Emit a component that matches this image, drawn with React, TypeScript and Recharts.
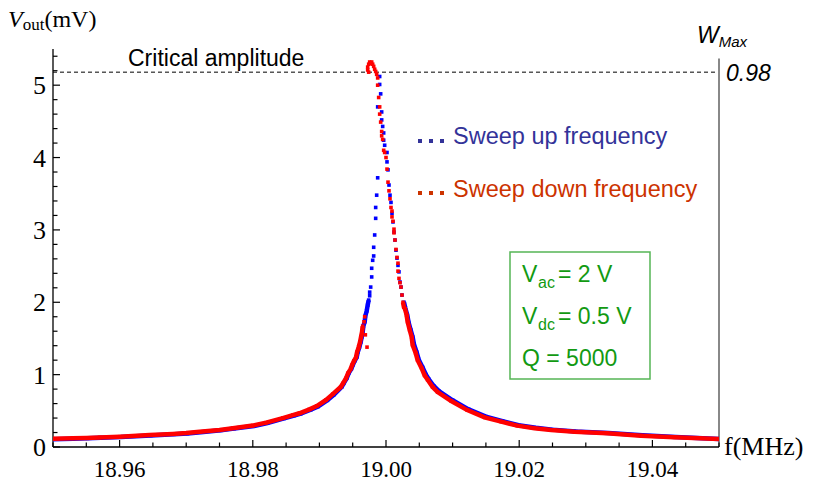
import React from 'react';
import { ScatterChart, Scatter, XAxis, YAxis, ReferenceLine } from 'recharts';

// ---- data (f in MHz, V_out in mV) ----
const blueLeftBranch: [number, number][] = [
  [18.95, 0.108], [18.953, 0.115], [18.9552, 0.12], [18.9572, 0.128], [18.9602, 0.137],
  [18.9647, 0.16], [18.9682, 0.176], [18.9702, 0.186], [18.9722, 0.205], [18.9752, 0.23],
  [18.9772, 0.255], [18.9802, 0.29], [18.9822, 0.33], [18.9847, 0.395], [18.9862, 0.435],
  [18.9872, 0.46], [18.9887, 0.515], [18.9898, 0.56], [18.9912, 0.645], [18.9922, 0.725],
  [18.99335, 0.83], [18.99365, 0.88], [18.9941, 0.95], [18.9944, 1.02], [18.9948, 1.08],
  [18.995, 1.13], [18.9953, 1.19], [18.9956, 1.24], [18.99575, 1.31], [18.996, 1.38],
  [18.9962, 1.45], [18.99635, 1.52], [18.9965, 1.59], [18.9966, 1.67], [18.9968, 1.73],
  [18.9969, 1.81], [18.9971, 1.88], [18.99725, 1.96], [18.9974, 2.03],
];
const bluePeakDots: [number, number][] = [
  [18.99755, 2.14], [18.99755, 2.09], [18.9977, 2.21], [18.99785, 2.35], [18.99785, 2.47], [18.998, 2.58],
  [18.99815, 2.64], [18.99815, 2.76], [18.9983, 2.93], [18.99845, 3.16], [18.99845, 3.31],
  [18.9986, 3.48], [18.99875, 3.72], [18.99875, 4.7], [18.99905, 5.12], [18.99905, 5.01],
  [18.9992, 4.88], [18.99935, 4.63], [18.99935, 4.52], [18.9995, 4.43], [18.99965, 4.34],
  [18.99965, 4.24], [18.9998, 4.17], [19.00015, 4.07], [19.00015, 3.94], [19.0003, 3.83],
  [19.00045, 3.62], [19.0006, 3.48], [19.00075, 3.38], [19.0009, 3.23], [19.00105, 3.11],
  [19.0012, 2.97], [19.00135, 2.86], [19.0015, 2.72], [19.00165, 2.61], [19.0018, 2.51],
  [19.00195, 2.42], [19.0021, 2.28], [19.00225, 2.21], [19.0024, 2.1],
];
const blueRightBranch: [number, number][] = [
  [19.0027, 2.0], [19.0029, 1.92], [19.0032, 1.82], [19.0034, 1.72], [19.0037, 1.62],
  [19.004, 1.52], [19.0042, 1.42], [19.0046, 1.31], [19.0049, 1.21], [19.0055, 1.1],
  [19.006, 1.0], [19.0064, 0.94], [19.0072, 0.84], [19.008, 0.77], [19.01, 0.645],
  [19.0124, 0.52], [19.015, 0.42], [19.0175, 0.357], [19.0199, 0.3], [19.0225, 0.266],
  [19.025, 0.24], [19.0285, 0.215], [19.0334, 0.195], [19.0385, 0.162], [19.0435, 0.138],
  [19.05, 0.112],
];
const redLeftBranch: [number, number][] = [
  [18.95, 0.115], [18.953, 0.12], [18.955, 0.125], [18.957, 0.132], [18.96, 0.142],
  [18.9645, 0.165], [18.968, 0.181], [18.97, 0.192], [18.972, 0.21], [18.975, 0.236],
  [18.977, 0.26], [18.98, 0.296], [18.982, 0.336], [18.9845, 0.4], [18.986, 0.44],
  [18.987, 0.466], [18.9885, 0.52], [18.9896, 0.566], [18.991, 0.65], [18.992, 0.73],
  [18.9932, 0.83], [18.99355, 0.88], [18.994, 0.95], [18.9943, 1.02], [18.9947, 1.08],
  [18.9949, 1.13], [18.9952, 1.19], [18.9955, 1.24], [18.99565, 1.31], [18.9959, 1.38],
  [18.9961, 1.45], [18.99625, 1.52], [18.9964, 1.59], [18.9965, 1.67],
];
const redPeakDots: [number, number][] = [
  [18.9967, 1.73], [18.9968, 1.8],
  [18.9969, 1.55], [18.99715, 1.38], [18.99725, 5.25], [18.99725, 5.21], [18.9974, 5.29],
  [18.9974, 5.18], [18.99755, 5.32], [18.9977, 5.3], [18.99785, 5.32], [18.998, 5.29],
  [18.99815, 5.26], [18.9983, 5.22], [18.99845, 5.19], [18.9986, 5.15], [18.99875, 5.1],
  [18.99875, 5.0], [18.9989, 4.83], [18.99905, 4.7], [18.99905, 4.6], [18.9992, 4.49],
  [18.99935, 4.36], [18.99935, 4.3], [18.9995, 4.25], [18.99965, 4.1], [18.9998, 4.07],
  [19.0, 4.0], [19.00015, 3.84], [19.0003, 3.66], [19.00045, 3.54], [19.0006, 3.43],
  [19.00075, 3.31], [19.0009, 3.26], [19.0009, 3.18], [19.00105, 3.12], [19.0012, 3.01],
  [19.0012, 2.96], [19.00135, 2.86], [19.0015, 2.73], [19.00165, 2.62], [19.0018, 2.54],
  [19.0018, 2.43], [19.00195, 2.33], [19.0021, 2.27], [19.00225, 2.21], [19.0024, 2.1],
];
const redRightBranch: [number, number][] = [
  [19.00255, 2.0], [19.0027, 1.93], [19.00285, 1.91], [19.0031, 1.82], [19.00325, 1.73],
  [19.00355, 1.62], [19.00385, 1.52], [19.004, 1.41], [19.00445, 1.3], [19.00475, 1.2],
  [19.00535, 1.09], [19.0058, 0.99], [19.00625, 0.93], [19.007, 0.83], [19.00775, 0.76],
  [19.0098, 0.635], [19.0122, 0.51], [19.0148, 0.41], [19.0173, 0.35], [19.0197, 0.295],
  [19.0223, 0.26], [19.0248, 0.235], [19.0283, 0.21], [19.0332, 0.19], [19.0383, 0.157],
  [19.0433, 0.134], [19.05, 0.11],
];

const xTicks = [
  18.95, 18.955, 18.96, 18.965, 18.97, 18.975, 18.98, 18.985, 18.99, 18.995, 19.0,
  19.005, 19.01, 19.015, 19.02, 19.025, 19.03, 19.035, 19.04, 19.045, 19.05,
];
const xLabelTicks = [18.96, 18.98, 19.0, 19.02, 19.04];
const yTicks = [
  0, 0.2, 0.4, 0.6, 0.8, 1, 1.2, 1.4, 1.6, 1.8, 2, 2.2, 2.4, 2.6, 2.8, 3, 3.2, 3.4, 3.6,
  3.8, 4, 4.2, 4.4, 4.6, 4.8, 5, 5.2, 5.4,
];
const criticalLevel = 5.18;
const wMaxLabel = '0.98';
const frameTop = 5.37;

const toPts = (arr: [number, number][]) => arr.map(([f, v]) => ({ f, v }));

const SERIF = '"Liberation Serif", "Times New Roman", serif';
const SANS = '"Liberation Sans", Arial, sans-serif';
const BLUE = '#0000ff';
const RED = '#ff0000';

const square = (color: string) => (p: any) => (
  <rect x={p.cx - 1.8} y={p.cy - 1.8} width={3.6} height={3.6} fill={color} />
);

const XTick = (props: any) => {
  const { x, y, payload } = props;
  const val = Number(payload.value);
  const major = xLabelTicks.some((l) => Math.abs(l - val) < 1e-7);
  const px = Number(x);
  const py = Number(y);
  return (
    <g>
      <path d={`M${px},${py} L${px},${py - (major ? 7 : 4.5)}`} stroke="#000" strokeWidth={1.2} fill="none" />
      {major && (
        <text x={px} y={py + 30} textAnchor="middle" fontFamily={SERIF} fontSize={23} fill="#000" stroke="none">
          {val.toFixed(2)}
        </text>
      )}
    </g>
  );
};

const YTick = (props: any) => {
  const { x, y, payload } = props;
  const val = Number(payload.value);
  const major = Math.abs(val - Math.round(val)) < 1e-7;
  const px = Number(x);
  const py = Number(y);
  return (
    <g>
      <path d={`M${px},${py} L${px + (major ? 7 : 4.5)},${py}`} stroke="#000" strokeWidth={1.2} fill="none" />
      {major && (
        <text x={px - 7} y={py + 9} textAnchor="end" fontFamily={SERIF} fontSize={26} fill="#000" stroke="none">
          {String(Math.round(val))}
        </text>
      )}
    </g>
  );
};

export default function App() {
  return (
    <div style={{ position: 'absolute', left: 0, top: 0, width: 815, height: 486, background: '#fff' }}>
      <ScatterChart width={815} height={486} margin={{ top: 49, right: 96, bottom: 9, left: 13 }}>
        <XAxis
          type="number"
          dataKey="f"
          domain={[18.95, 19.05]}
          ticks={xTicks}
          interval={0}
          allowDataOverflow
          height={30}
          tickLine={false}
          tickSize={0}
          tickMargin={0}
          axisLine={{ stroke: '#000', strokeWidth: 1.3 }}
          tick={<XTick />}
        />
        <YAxis
          yAxisId="left"
          type="number"
          dataKey="v"
          domain={[0, 5.5]}
          ticks={yTicks}
          interval={0}
          allowDataOverflow
          width={40}
          tickLine={false}
          tickSize={0}
          tickMargin={0}
          axisLine={{ stroke: '#000', strokeWidth: 1.3 }}
          tick={<YTick />}
        />
        <ReferenceLine yAxisId="left" y={criticalLevel} stroke="#000" strokeDasharray="4 3" strokeWidth={1} />
        <ReferenceLine
          yAxisId="left"
          segment={[{ x: 19.05, y: 0 }, { x: 19.05, y: frameTop }]}
          stroke="#888"
          strokeWidth={2}
        />
        <Scatter
          yAxisId="left"
          data={toPts(blueLeftBranch)}
          shape={square(BLUE)}
          line={{ stroke: BLUE, strokeWidth: 4.5 }}
          lineType="joint"
          isAnimationActive={false}
        />
        <Scatter
          yAxisId="left"
          data={toPts(blueRightBranch)}
          shape={square(BLUE)}
          line={{ stroke: BLUE, strokeWidth: 4.5 }}
          lineType="joint"
          isAnimationActive={false}
        />
        <Scatter yAxisId="left" data={toPts(bluePeakDots)} shape={square(BLUE)} isAnimationActive={false} />
        <Scatter
          yAxisId="left"
          data={toPts(redLeftBranch)}
          shape={square(RED)}
          line={{ stroke: RED, strokeWidth: 4.5 }}
          lineType="joint"
          isAnimationActive={false}
        />
        <Scatter
          yAxisId="left"
          data={toPts(redRightBranch)}
          shape={square(RED)}
          line={{ stroke: RED, strokeWidth: 4.5 }}
          lineType="joint"
          isAnimationActive={false}
        />
        <Scatter yAxisId="left" data={toPts(redPeakDots)} shape={square(RED)} isAnimationActive={false} />
      </ScatterChart>
      <svg
        width={815}
        height={486}
        style={{ position: 'absolute', left: 0, top: 0, pointerEvents: 'none' }}
      >
        <text x={8} y={27} fontFamily={SERIF} fontSize={24} fill="#000">
          <tspan fontStyle="italic">V</tspan>
          <tspan fontSize={17} dy={3}>out</tspan>
          <tspan dy={-3}>(mV)</tspan>
        </text>
        <text x={724} y={455} fontFamily={SERIF} fontSize={26} fill="#000">f(MHz)</text>
        <text x={128} y={66} fontFamily={SANS} fontSize={23} fill="#000">Critical amplitude</text>
        <text x={697} y={43} fontFamily={SANS} fontSize={23} fontStyle="italic" fill="#000">
          W<tspan fontSize={15} dy={4}>Max</tspan>
        </text>
        <text x={726} y={81} fontFamily={SANS} fontSize={23} fontStyle="italic" fill="#000">{wMaxLabel}</text>
        {[418, 429, 440].map((x) => (
          <rect key={'b' + x} x={x} y={139} width={4} height={4} fill="#333399" />
        ))}
        <text x={453} y={144} fontFamily={SANS} fontSize={23.5} fill="#333399">Sweep up frequency</text>
        {[418, 429, 440].map((x) => (
          <rect key={'r' + x} x={x} y={191} width={4} height={4} fill="#cc3300" />
        ))}
        <text x={453} y={197} fontFamily={SANS} fontSize={23.5} fill="#cc3300">Sweep down frequency</text>
        <rect x={510} y={252} width={140} height={127} fill="none" stroke="#55b555" strokeWidth={1.5} />
        <g fontFamily={SANS} fill="#129a12">
          <text x={522} y={282} fontSize={23}>V</text>
          <text x={538} y={288} fontSize={16}>ac</text>
          <text x={558} y={282} fontSize={23}>= 2 V</text>
          <text x={522} y={324} fontSize={23}>V</text>
          <text x={538} y={330} fontSize={16}>dc</text>
          <text x={558} y={324} fontSize={23}>= 0.5 V</text>
          <text x={522} y={366} fontSize={23}>Q = 5000</text>
        </g>
      </svg>
    </div>
  );
}
